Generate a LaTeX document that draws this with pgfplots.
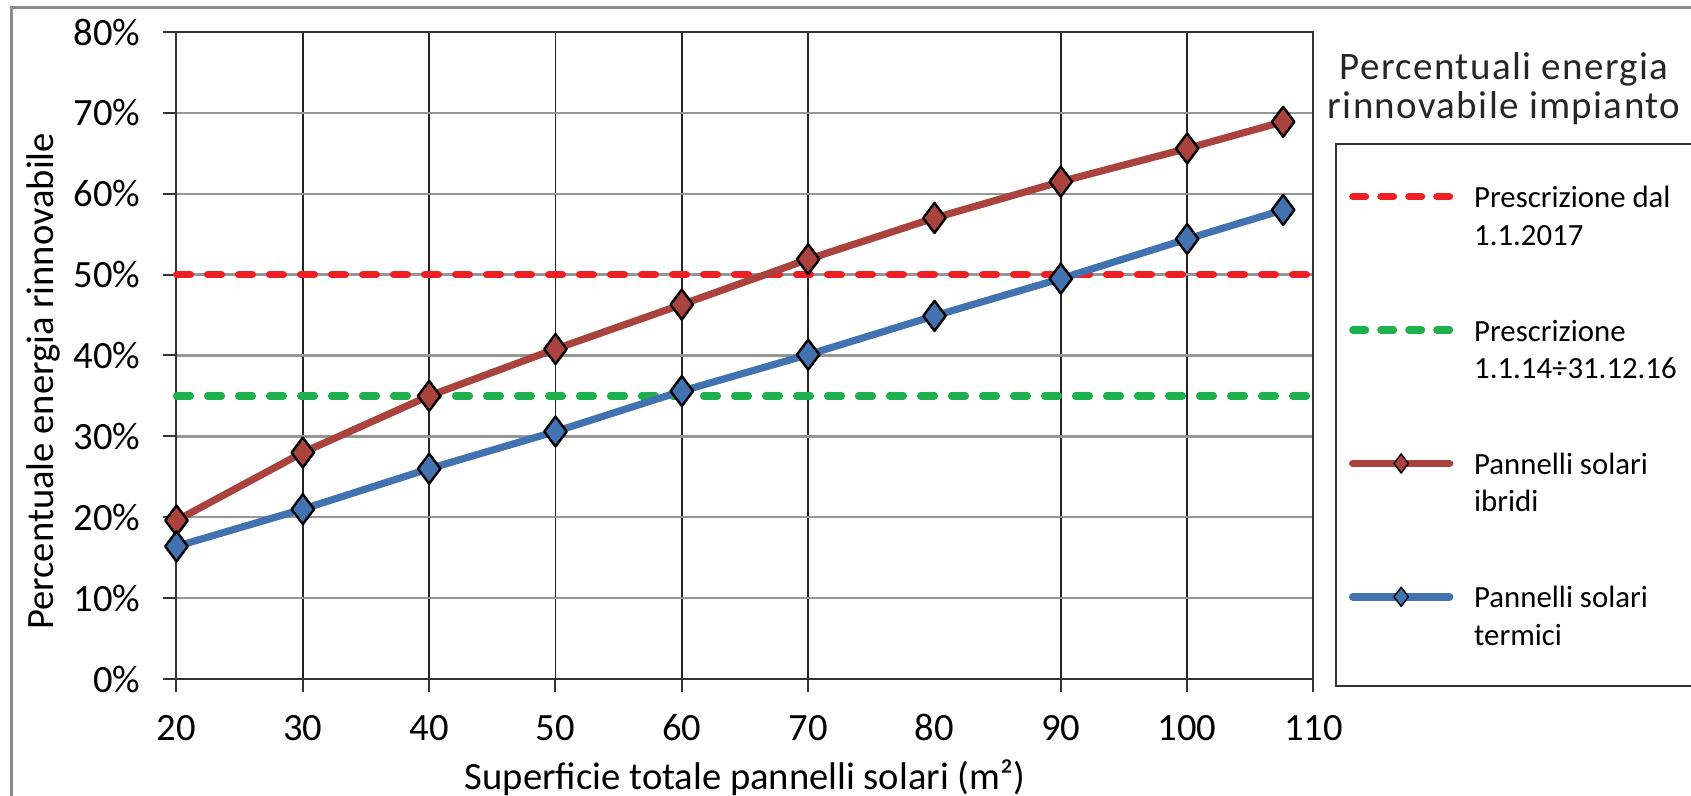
\documentclass[border=0pt]{standalone}
\usepackage{pgfplots}
\pgfplotsset{compat=1.18}
\usepackage{fontspec}
\setmainfont{Carlito}
\newfontfamily\titlefont{Carlito}[LetterSpace=3.5]

\definecolor{cred}{RGB}{238,32,36}
\definecolor{cgreen}{RGB}{30,176,76}
\definecolor{cbrick}{RGB}{170,66,62}
\definecolor{cblue}{RGB}{66,114,176}
\definecolor{gridv}{RGB}{35,35,35}
\definecolor{gridh}{RGB}{150,150,150}

\newcommand{\lf}{\fontsize{19.3}{23}\selectfont}
\newcommand{\legf}{\fontsize{15.4}{18.7}\selectfont}

\pgfplotstableread{
x      y
20     19.6
30     28.0
40     35.0
50     40.8
60     46.3
70     51.9
80     57.0
90     61.5
100    65.6
107.6  68.9
}\ibridi

\pgfplotstableread{
x      y
20     16.4
30     21.0
40     26.0
50     30.6
60     35.6
70     40.1
80     44.9
90     49.5
100    54.4
107.6  58.0
}\termici

\begin{document}
\begin{tikzpicture}
\path[use as bounding box] (0,0) rectangle (845.5pt,398pt);
\draw[color=black!45, line width=1.5pt] (5.5pt,-5pt) -- (5.5pt,394.3pt) -- (850pt,394.3pt);
\begin{axis}[
  at={(88.25pt,58.5pt)}, anchor=south west,
  scale only axis, width=568.5pt, height=323.5pt,
  xmin=20, xmax=110, ymin=0, ymax=80,
  xtick={20,30,40,50,60,70,90,100,110},
  extra x ticks={80},
  extra x tick style={grid=none, tick style={draw=none}},
  ytick={0,10,...,80},
  xmajorgrids, ymajorgrids,
  major x grid style={gridv, line width=0.9pt},
  major y grid style={gridh, line width=1.2pt},
  axis line style={black!80, line width=1pt},
  tick style={black!80, line width=1pt},
  tick align=outside, major tick length=6.5pt,
  xtick pos=bottom, ytick pos=left,
  /pgf/number format/assume math mode=true,
  yticklabel={\pgfmathprintnumber{\tick}\%},
  xticklabel style={font=\lf, anchor=base, yshift=-24.1pt},
  yticklabel style={font=\lf, anchor=east, inner xsep=0pt, xshift=-11.35pt},
  xlabel={Superficie totale pannelli solari (m²)},
  ylabel={Percentuale energia rinnovabile},
  xlabel style={font=\lf, at={(axis description cs:0.5,0)}, anchor=base, yshift=-55.2pt},
  ylabel style={font=\lf, at={(axis description cs:-0.1081,0.46)}, anchor=base},
  clip=false,
  legend cell align=left,
  legend style={at={(axis description cs:1.01891,0.82782)}, anchor=north west,
    draw=black!80, line width=1pt, inner xsep=6.5pt, inner ysep=16.6pt,
    row sep=29.4pt, column sep=8.4pt, font=\legf,
    cells={align=left, inner xsep=0pt, inner ysep=0pt}},
]
\addplot[cred, line width=3.6pt, line cap=round, dash pattern=on 7pt off 8.5pt,
  legend image code/.code={\draw[cred, line width=3.6pt, line cap=round, dash pattern=on 6.4pt off 7.6pt] (0pt,9.1pt) -- (48.4pt,9.1pt);}]
  coordinates {(20,50) (110,50)};
\addlegendentry{\strut Prescrizione dal\\1.1.2017\strut}
\addplot[cgreen, line width=3.6pt, line cap=round, dash pattern=on 7pt off 8.5pt,
  legend image code/.code={\draw[cgreen, line width=3.6pt, line cap=round, dash pattern=on 6.4pt off 7.6pt] (0pt,9.1pt) -- (48.4pt,9.1pt);}]
  coordinates {(20,35) (110,35)};
\addlegendentry{\strut Prescrizione\\1.1.14÷31.12.16\strut}
\addplot[cbrick, line width=3.6pt, line join=round, mark=diamond*, mark size=7.5pt,
  mark options={draw=black, fill=cbrick, line width=1.2pt, solid},
  legend image code/.code={
    \draw[cbrick, line width=3.8pt, line cap=round] (0pt,9.1pt) -- (48.4pt,9.1pt);
    \draw[mark=diamond*, mark size=4.8pt, mark options={draw=black, fill=cbrick, line width=0.7pt}] plot coordinates {(24.2pt,9.1pt)};}]
  table[x=x, y=y] {\ibridi};
\addlegendentry{\strut Pannelli solari\\ibridi\strut}
\addplot[cblue, line width=3.6pt, line join=round, mark=diamond*, mark size=7.5pt,
  mark options={draw=black, fill=cblue, line width=1.2pt, solid},
  legend image code/.code={
    \draw[cblue, line width=3.8pt, line cap=round] (0pt,9.1pt) -- (48.4pt,9.1pt);
    \draw[mark=diamond*, mark size=4.8pt, mark options={draw=black, fill=cblue, line width=0.7pt}] plot coordinates {(24.2pt,9.1pt)};}]
  table[x=x, y=y] {\termici};
\addlegendentry{\strut Pannelli solari\\termici\strut}
\end{axis}
\node[anchor=base, font=\titlefont\fontsize{19.5}{19.5}\selectfont, text=black!85] at (752pt,358pt) {Percentuali energia};
\node[anchor=base, font=\titlefont\fontsize{19.5}{19.5}\selectfont, text=black!85] at (752pt,338.5pt) {rinnovabile impianto};
\end{tikzpicture}
\end{document}
